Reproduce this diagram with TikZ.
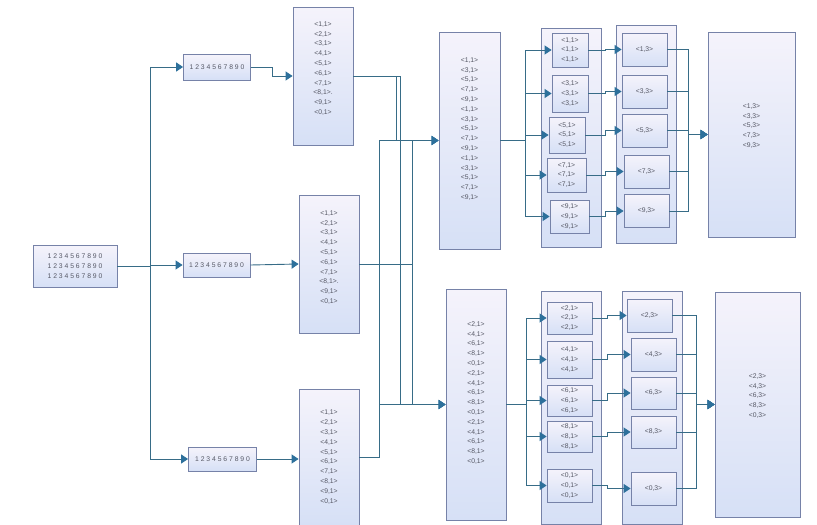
\documentclass[tikz,border=0pt]{standalone}
\usepackage{fontspec}
\setmainfont{Liberation Sans}
\usepackage{xcolor}
\usetikzlibrary{arrows.meta,positioning,calc}

\definecolor{wirecol}{RGB}{55,108,135}
\definecolor{tipcol}{RGB}{45,112,155}
\definecolor{boxline}{RGB}{118,130,168}
\definecolor{boxtop}{RGB}{245,243,251}
\definecolor{boxbot}{RGB}{214,224,246}
\definecolor{txtcol}{RGB}{85,87,100}
\newcommand{\tinylbl}{\fontsize{6.8}{9.8}\selectfont}

\begin{document}
\begin{tikzpicture}[x=1pt, y=-1pt,
    box/.style={draw=boxline, line width=0.8pt, top color=boxtop, bottom color=boxbot, font=\tinylbl, text=txtcol, align=center, inner sep=1pt},
    grp/.style={box, minimum width=60pt},
    shuf/.style={box, minimum width=45pt, minimum height=33pt},
    red/.style={box, minimum width=45pt, minimum height=33pt},
    conn/.style={draw=wirecol, line width=0.9pt},
    arr/.style={conn, -{Triangle[length=7pt,width=9pt,color=tipcol]}}
  ]
    \useasboundingbox (0,0) rectangle (817,525);

    % input and splits
    \node[box, minimum width=84pt, minimum height=42pt] (input) at (75,266) {1 2 3 4 5 6 7 8 9 0\\1 2 3 4 5 6 7 8 9 0\\1 2 3 4 5 6 7 8 9 0};
    \node[box, minimum width=67pt, minimum height=26pt] (split1) at (217,67) {1 2 3 4 5 6 7 8 9 0};
    \node[box, minimum width=67pt, minimum height=24pt] (split2) at (216.5,265) {1 2 3 4 5 6 7 8 9 0};
    \node[box, minimum width=68pt, minimum height=24pt] (split3) at (222.5,459) {1 2 3 4 5 6 7 8 9 0};

    % map output
    \node[grp, minimum height=138pt] (map1) at (323,76) {<1,1>\\<2,1>\\<3,1>\\<4,1>\\<5,1>\\<6,1>\\<7,1>\\<8,1>.\\<9,1>\\<0,1>\\[6pt]};
    \node[grp, minimum height=138pt] (map2) at (329,264) {<1,1>\\<2,1>\\<3,1>\\<4,1>\\<5,1>\\<6,1>\\<7,1>\\<8,1>.\\<9,1>\\<0,1>\\[4pt]};
    \node[grp, minimum height=136pt] (map3) at (329,457) {<1,1>\\<2,1>\\<3,1>\\<4,1>\\<5,1>\\<6,1>\\<7,1>\\<8,1>\\<9,1>\\<0,1>};

    % sorted
    \node[grp, minimum width=61pt, minimum height=217pt] (sort1) at (469.5,140.5) {<1,1>\\<3,1>\\<5,1>\\<7,1>\\<9,1>\\<1,1>\\<3,1>\\<5,1>\\<7,1>\\<9,1>\\<1,1>\\<3,1>\\<5,1>\\<7,1>\\<9,1>\\[14pt]};
    \node[grp, minimum height=231pt] (sort2) at (476,404.5) {<2,1>\\<4,1>\\<6,1>\\<8,1>\\<0,1>\\<2,1>\\<4,1>\\<6,1>\\<8,1>\\<0,1>\\<2,1>\\<4,1>\\<6,1>\\<8,1>\\<0,1>\\[14pt]};

    % group frames
    \node[grp, minimum height=219pt] (frame1) at (571,137.5) {};
    \node[grp, minimum height=218pt] (frame2) at (646,134) {};
    \node[grp, minimum height=233pt] (frame3) at (571,407.5) {};
    \node[grp, minimum height=233pt] (frame4) at (652,407.5) {};

    % shuffle, upper
    \node[shuf, minimum width=36pt, minimum height=34pt] (s1) at (570,50) {<1,1>\\<1,1>\\<1,1>};
    \node[shuf, minimum width=36pt, minimum height=37pt] (s3) at (570,93.5) {<3,1>\\<3,1>\\<3,1>};
    \node[shuf, minimum width=36pt, minimum height=36pt] (s5) at (567,135) {<5,1>\\<5,1>\\<5,1>};
    \node[shuf, minimum width=39pt, minimum height=34pt] (s7) at (566.5,175) {<7,1>\\<7,1>\\<7,1>};
    \node[shuf, minimum width=39pt, minimum height=33pt] (s9) at (569.5,216.5) {<9,1>\\<9,1>\\<9,1>};

    \node[red] (r1) at (644.5,49.5) {<1,3>};
    \node[red] (r3) at (644.5,91.5) {<3,3>};
    \node[red] (r5) at (644.5,130.5) {<5,3>};
    \node[red] (r7) at (646.5,171.5) {<7,3>};
    \node[red] (r9) at (646.5,211) {<9,3>};

    % shuffle, lower
    \node[shuf, minimum height=32pt] (t2) at (569.5,318) {<2,1>\\<2,1>\\<2,1>};
    \node[shuf, minimum height=37pt] (t4) at (569.5,359.5) {<4,1>\\<4,1>\\<4,1>};
    \node[shuf, minimum height=31pt] (t6) at (569.5,400.5) {<6,1>\\<6,1>\\<6,1>};
    \node[shuf, minimum height=31pt] (t8) at (569.5,436.5) {<8,1>\\<8,1>\\<8,1>};
    \node[shuf] (t0) at (569.5,485.5) {<0,1>\\<0,1>\\<0,1>};

    \node[red] (q2) at (649.5,315.5) {<2,3>};
    \node[red] (q4) at (653.5,354.5) {<4,3>};
    \node[red, minimum height=32pt] (q6) at (653.5,393) {<6,3>};
    \node[red, minimum height=32pt] (q8) at (653.5,432) {<8,3>};
    \node[red] (q0) at (653.5,488.5) {<0,3>};

    % results
    \node[box, minimum width=87pt, minimum height=205pt] (out1) at (751.5,134.5) {<1,3>\\<3,3>\\<5,3>\\<7,3>\\<9,3>\\[8pt]};
    \node[box, minimum width=85pt, minimum height=225pt] (out2) at (757.5,404.5) {<2,3>\\<4,3>\\<6,3>\\<8,3>\\<0,3>\\[8pt]};

    % bus lines
    \coordinate (inbus) at (150,0);
    \coordinate (stepa) at (272,0);
    \coordinate (va) at (379,0);
    \coordinate (vb) at (396.5,0);
    \coordinate (vc) at (400,0);
    \coordinate (vd) at (412.5,0);
    \coordinate (sha) at (525,0);
    \coordinate (shb) at (526,0);
    \coordinate (mida) at (605,0);
    \coordinate (midb) at (607,0);
    \coordinate (outa) at (688,0);
    \coordinate (outb) at (696,0);

    \draw[arr] (input.east) -| (inbus |- split1.west) -- (split1.west);
    \draw[arr] (input.east) -| (inbus |- split2.west) -- (split2.west);
    \draw[arr] (input.east) -| (inbus |- split3.west) -- (split3.west);

    \draw[arr] (split1.east) -| (stepa |- map1.west) -- (map1.west);
    \draw[arr] (split2.east) -- (map2.west);
    \draw[arr] (split3.east) -- (split3.east -| map3.west);

    \draw[arr] (map1.east) -| (vb |- sort1.west) -- (sort1.west);
    \draw[arr] (map1.east) -| (vc |- sort2.west) -- (sort2.west);
    \draw[arr] (map2.east) -| (vd |- sort1.west) -- (sort1.west);
    \draw[arr] (map2.east) -| (vd |- sort2.west) -- (sort2.west);
    \draw[arr] (map3.east) -| (va |- sort1.west) -- (sort1.west);
    \draw[arr] (map3.east) -| (va |- sort2.west) -- (sort2.west);

    \draw[arr] (sort1.east) -| (sha |- s1.west) -- (s1.west);
    \draw[arr] (sort1.east) -| (sha |- s3.west) -- (s3.west);
    \draw[arr] (sort1.east) -| (sha |- s5.west) -- (s5.west);
    \draw[arr] (sort1.east) -| (sha |- s7.west) -- (s7.west);
    \draw[arr] (sort1.east) -| (sha |- s9.west) -- (s9.west);
    \draw[arr] (sort2.east) -| (shb |- t2.west) -- (t2.west);
    \draw[arr] (sort2.east) -| (shb |- t4.west) -- (t4.west);
    \draw[arr] (sort2.east) -| (shb |- t6.west) -- (t6.west);
    \draw[arr] (sort2.east) -| (shb |- t8.west) -- (t8.west);
    \draw[arr] (sort2.east) -| (shb |- t0.west) -- (t0.west);

    \draw[arr] (s1.east) -| (mida |- r1.west) -- (r1.west);
    \draw[arr] (s3.east) -| (mida |- r3.west) -- (r3.west);
    \draw[arr] (s5.east) -| (mida |- r5.west) -- (r5.west);
    \draw[arr] (s7.east) -| (mida |- r7.west) -- (r7.west);
    \draw[arr] (s9.east) -| (mida |- r9.west) -- (r9.west);
    \draw[arr] (t2.east) -| (midb |- q2.west) -- (q2.west);
    \draw[arr] (t4.east) -| (midb |- q4.west) -- (q4.west);
    \draw[arr] (t6.east) -| (midb |- q6.west) -- (q6.west);
    \draw[arr] (t8.east) -| (midb |- q8.west) -- (q8.west);
    \draw[arr] (t0.east) -| (midb |- q0.west) -- (q0.west);

    \draw[arr] (r1.east) -| (outa |- out1.west) -- (out1.west);
    \draw[arr] (r3.east) -| (outa |- out1.west) -- (out1.west);
    \draw[arr] (r5.east) -| (outa |- out1.west) -- (out1.west);
    \draw[arr] (r7.east) -| (outa |- out1.west) -- (out1.west);
    \draw[arr] (r9.east) -| (outa |- out1.west) -- (out1.west);
    \draw[arr] (q2.east) -| (outb |- out2.west) -- (out2.west);
    \draw[arr] (q4.east) -| (outb |- out2.west) -- (out2.west);
    \draw[arr] (q6.east) -| (outb |- out2.west) -- (out2.west);
    \draw[arr] (q8.east) -| (outb |- out2.west) -- (out2.west);
    \draw[arr] (q0.east) -| (outb |- out2.west) -- (out2.west);
  \end{tikzpicture}
\end{document}
